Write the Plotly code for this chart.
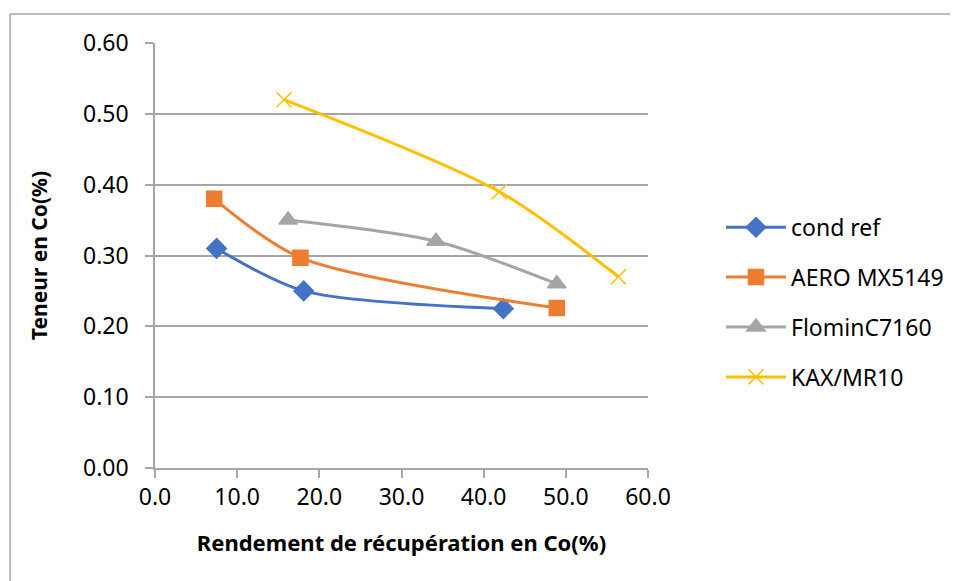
import plotly.graph_objects as go

# Werte
cond_ref_x = [7.5, 18.1, 42.4]
cond_ref_y = [0.31, 0.25, 0.225]

aero_x = [7.2, 17.7, 48.9]
aero_y = [0.38, 0.297, 0.226]

flomin_x = [16.2, 34.2, 48.9]
flomin_y = [0.35, 0.32, 0.26]

kax_x = [15.7, 41.9, 56.4]
kax_y = [0.52, 0.39, 0.27]

y_ticks = [0.0, 0.1, 0.2, 0.3, 0.4, 0.5, 0.6]
x_ticks = [0, 10, 20, 30, 40, 50, 60]

GRAU = "#a6a6a6"
SCHRIFT = "Noto Sans"

serien = [
    ("cond ref", cond_ref_x, cond_ref_y, "#4472C4", "diamond", 15),
    ("AERO MX5149", aero_x, aero_y, "#ED7D31", "square", 15),
    ("FlominC7160", flomin_x, flomin_y, "#A5A5A5", "triangle-up", 16),
    ("KAX/MR10", kax_x, kax_y, "#FFC000", "x-thin-open", 15),
]

fig = go.Figure()
for i, (name, xs, ys, farbe, symbol, groesse) in enumerate(serien):
    fig.add_trace(go.Scatter(
        x=xs, y=ys, name=name, legendgroup=str(i),
        mode="lines+markers",
        line=dict(color=farbe, width=3, shape="spline", smoothing=0.8),
        marker=dict(symbol=symbol, size=groesse, color=farbe,
                    line=dict(color=farbe, width=1.5)),
    ))

# die Seite hat ca. 7px Rand, deshalb links/oben etwas weniger
fig.update_layout(
    width=958, height=581,
    margin=dict(l=147, r=318, t=35, b=121),
    paper_bgcolor="white", plot_bgcolor="white",
    font=dict(family=SCHRIFT, size=22, color="black"),
    legend=dict(x=1.148, y=0.39, xanchor="left", yanchor="middle",
                font=dict(size=23), tracegroupgap=17, itemwidth=60),
    shapes=[
        dict(type="line", xref="paper", yref="paper",
             x0=-0.294, x1=-0.294, y0=1.068, y1=-0.5,
             line=dict(color=GRAU, width=1.5)),
        dict(type="line", xref="paper", yref="paper",
             x0=-0.294, x1=1.7, y0=1.068, y1=1.068,
             line=dict(color=GRAU, width=1.5)),
    ],
)

fig.update_xaxes(
    range=[0, 60], tickvals=x_ticks, tickformat=".1f",
    tickfont=dict(size=23),
    showgrid=False, showline=True, linecolor=GRAU, linewidth=1.5,
    ticks="outside", ticklen=8, tickcolor=GRAU, tickwidth=1.5,
    zeroline=False,
    title=dict(text="<b>Rendement de récupération en Co(%)</b>",
               font=dict(size=22), standoff=24),
)
fig.update_yaxes(
    range=[0, 0.6], tickvals=y_ticks, tickformat=".2f",
    tickfont=dict(size=23),
    showgrid=True, gridcolor=GRAU, gridwidth=1.5,
    showline=True, linecolor=GRAU, linewidth=1.5,
    ticks="outside", ticklen=8, tickcolor=GRAU, tickwidth=1.5,
    ticklabelstandoff=12, zeroline=False,
    title=dict(text="<b>Teneur en Co(%)</b>", font=dict(size=21), standoff=30),
)

fig.write_html("out.html")
